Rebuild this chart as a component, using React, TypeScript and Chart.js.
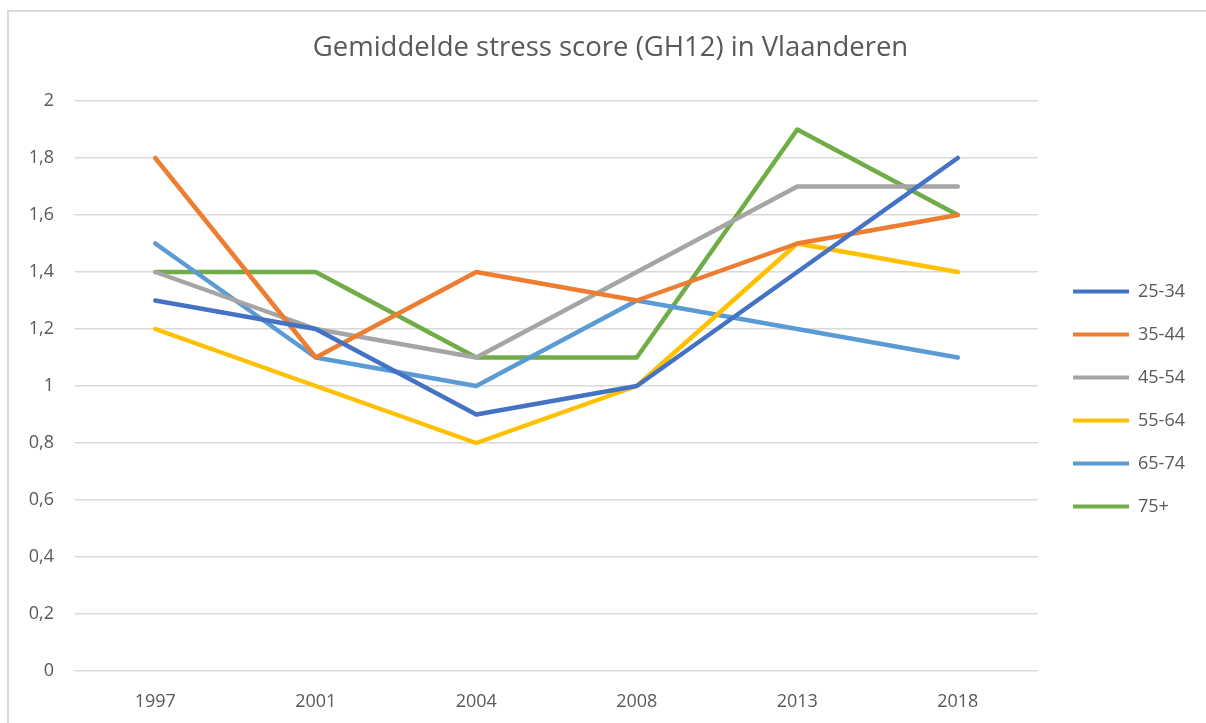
import React, { useEffect, useRef } from "react";
import { Chart, registerables } from "chart.js";

Chart.register(...registerables);

const categories = ["1997", "2001", "2004", "2008", "2013", "2018"];
const seriesNames = ["25-34", "35-44", "45-54", "55-64", "65-74", "75+"];
const s2534 = [1.3, 1.2, 0.9, 1.0, 1.4, 1.8];
const s3544 = [1.8, 1.1, 1.4, 1.3, 1.5, 1.6];
const s4554 = [1.4, 1.2, 1.1, 1.4, 1.7, 1.7];
const s5564 = [1.2, 1.0, 0.8, 1.0, 1.5, 1.4];
const s6574 = [1.5, 1.1, 1.0, 1.3, 1.2, 1.1];
const s75 = [1.4, 1.4, 1.1, 1.1, 1.9, 1.6];
const seriesColors = ["#4472C4", "#ED7D31", "#A5A5A5", "#FFC000", "#5B9BD5", "#70AD47"];
const yTickLabels = ["0", "0,2", "0,4", "0,6", "0,8", "1", "1,2", "1,4", "1,6", "1,8", "2"];
const titleText = "Gemiddelde stress score (GH12) in Vlaanderen";

const FONT = "'Open Sans', 'Noto Sans', sans-serif";
const TEXT = "#595959";

const boxShift = {
  id: "boxShift",
  afterLayout(chart: any) {
    const lg = chart.legend;
    if (lg) {
      lg.left += 10;
      lg.right += 10;
      lg.top += 13;
      lg.bottom += 13;
    }
    const tb = chart.titleBlock;
    if (tb) {
      tb.left += 18;
      tb.right += 18;
    }
  },
};

export default function App() {
  const ref = useRef<HTMLCanvasElement | null>(null);
  useEffect(() => {
    if (!ref.current) return;
    const values = [s2534, s3544, s4554, s5564, s6574, s75];
    const chart = new Chart(ref.current, {
      type: "line",
      data: {
        labels: categories,
        datasets: seriesNames.map((n, i) => ({
          label: n,
          data: values[i],
          borderColor: seriesColors[i],
          backgroundColor: seriesColors[i],
          borderWidth: 4.5,
          pointRadius: 0,
          borderJoinStyle: "round" as const,
          borderCapStyle: "round" as const,
          tension: 0,
        })),
      },
      options: {
        responsive: false,
        animation: false,
        layout: { padding: { left: 0, right: 21, top: 0, bottom: 0 } },
        plugins: {
          title: {
            display: true,
            text: titleText,
            color: TEXT,
            font: { family: FONT, size: 27.5, weight: "normal" },
            padding: { top: 31.5, bottom: 36.5 },
          },
          legend: {
            position: "right",
            align: "center",
            fullSize: false,
            labels: {
              boxWidth: 56,
              boxHeight: 4,
              padding: 25,
              color: TEXT,
              font: { family: FONT, size: 18 },
              generateLabels: (c: any) =>
                c.data.datasets.map((d: any, i: number) => ({
                  text: d.label,
                  fillStyle: d.borderColor,
                  strokeStyle: d.borderColor,
                  lineWidth: 0,
                  hidden: false,
                  datasetIndex: i,
                  fontColor: TEXT,
                })),
            },
          },
          tooltip: { enabled: false },
        },
        scales: {
          x: {
            offset: true,
            grid: { display: false },
            border: { display: false },
            ticks: { color: TEXT, font: { family: FONT, size: 18 }, padding: 12 },
            afterFit: (s: any) => {
              s.height = 52;
            },
          },
          y: {
            min: 0,
            max: 2,
            grid: { color: "#d9d9d9", lineWidth: 1.5, drawTicks: false },
            border: { display: false },
            ticks: {
              stepSize: 0.2,
              color: TEXT,
              font: { family: FONT, size: 18 },
              padding: 21,
              callback: (_v: any, i: number) => yTickLabels[i],
            },
            afterFit: (s: any) => {
              s.width = 75;
            },
          },
        },
      },
      plugins: [boxShift],
    });
    return () => chart.destroy();
  }, []);
  return (
    <div style={{ position: "absolute", left: 0, top: 0, width: 1206, height: 723, background: "#fff" }}>
      <div
        style={{
          position: "absolute",
          left: 7,
          top: 10,
          width: 1199,
          height: 713,
          borderLeft: "2px solid #dadada",
          borderTop: "2px solid #dadada",
          boxSizing: "border-box",
        }}
      />
      <canvas ref={ref} width={1206} height={723} style={{ position: "absolute", left: 0, top: 0 }} />
    </div>
  );
}
